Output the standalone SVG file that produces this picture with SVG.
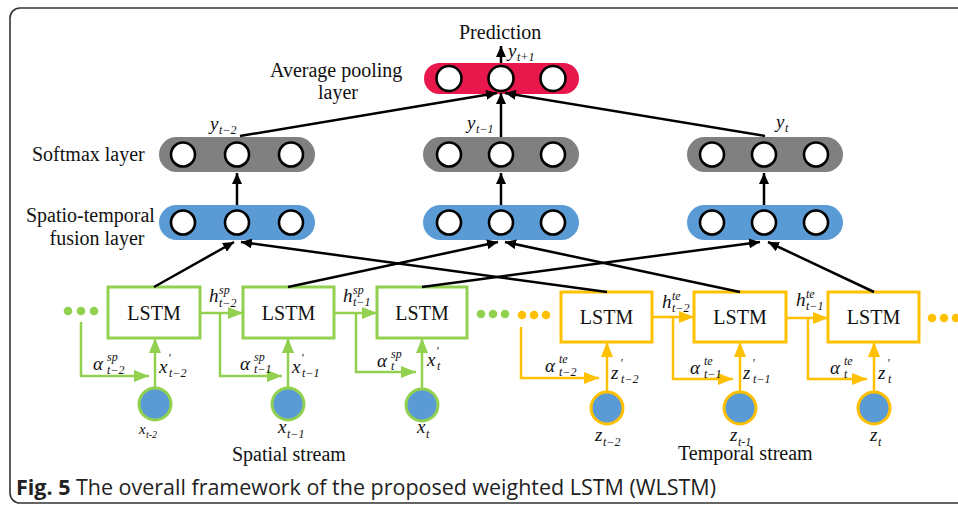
<svg xmlns="http://www.w3.org/2000/svg" width="958" height="506" viewBox="0 0 958 506">
<style>
.lbl{font-family:"Liberation Serif",serif;font-size:20px;fill:#111}
.m{font-family:"Liberation Serif",serif;font-style:italic;font-size:19px;fill:#111}
.s{font-family:"Liberation Serif",serif;font-style:italic;font-size:12px;fill:#111}
.ms{font-family:"Liberation Serif",serif;font-style:italic;font-size:15px;fill:#111}
.ss{font-family:"Liberation Serif",serif;font-style:italic;font-size:10px;fill:#111}
.node circle{fill:#fff;stroke:#000;stroke-width:2.6}
.blk{stroke:#000;stroke-width:2.5;fill:none}
.g{stroke:#92D050;stroke-width:2.5;fill:none}
.y{stroke:#FFC000;stroke-width:2.5;fill:none}
.gbox{fill:#fff;stroke:#92D050;stroke-width:3}
.ybox{fill:#fff;stroke:#FFC000;stroke-width:3}
.gin{fill:#5B9BD5;stroke:#92D050;stroke-width:3}
.yin{fill:#5B9BD5;stroke:#FFC000;stroke-width:3}
.cap{font-family:"Open Sans",sans-serif;font-size:21px;fill:#222}
</style>
<defs>
<marker id="ab" markerUnits="userSpaceOnUse" markerWidth="12" markerHeight="10" refX="11" refY="5" orient="auto"><path d="M0,0 L11,5 L0,10 z" fill="#000"/></marker>
<marker id="ag" markerUnits="userSpaceOnUse" markerWidth="16" markerHeight="12" refX="15" refY="6" orient="auto"><path d="M0,0 L15,6 L0,12 z" fill="#92D050"/></marker>
<marker id="ay" markerUnits="userSpaceOnUse" markerWidth="16" markerHeight="12" refX="15" refY="6" orient="auto"><path d="M0,0 L15,6 L0,12 z" fill="#FFC000"/></marker>
</defs>
<rect x="10" y="8" width="970" height="495" rx="10" fill="#fff" stroke="#333" stroke-width="1.6"/>

<g id="labels">
<text class="lbl" x="459" y="39">Prediction</text>
<text class="lbl" x="270" y="77">Average pooling</text>
<text class="lbl" x="338" y="99" text-anchor="middle">layer</text>
<text class="lbl" x="32" y="161">Softmax layer</text>
<text class="lbl" x="26" y="222">Spatio-temporal</text>
<text class="lbl" x="97" y="245" text-anchor="middle">fusion layer</text>
<text class="lbl" x="232" y="461">Spatial stream</text>
<text class="lbl" x="678" y="460">Temporal stream</text>
</g>

<g id="pooling" class="node">
<rect x="424" y="63" width="155" height="31" rx="15.5" fill="#E8184D"/>
<circle cx="449" cy="78.5" r="12.5"/><circle cx="501" cy="78.5" r="12.5"/><circle cx="553" cy="78.5" r="12.5"/>
</g>
<g id="softmax1" class="node">
<rect x="159" y="137" width="156" height="35" rx="17.5" fill="#808080"/>
<circle cx="183" cy="154.5" r="12"/><circle cx="237" cy="154.5" r="12"/><circle cx="291" cy="154.5" r="12"/>
</g>
<g id="softmax2" class="node">
<rect x="423" y="137" width="156" height="35" rx="17.5" fill="#808080"/>
<circle cx="449" cy="154.5" r="12"/><circle cx="501" cy="154.5" r="12"/><circle cx="553" cy="154.5" r="12"/>
</g>
<g id="softmax3" class="node">
<rect x="687" y="137" width="156" height="35" rx="17.5" fill="#808080"/>
<circle cx="712" cy="154.5" r="12"/><circle cx="764" cy="154.5" r="12"/><circle cx="816" cy="154.5" r="12"/>
</g>
<g id="fusion1" class="node">
<rect x="159" y="205" width="156" height="35" rx="17.5" fill="#5B9BD5"/>
<circle cx="183" cy="222.5" r="12"/><circle cx="237" cy="222.5" r="12"/><circle cx="291" cy="222.5" r="12"/>
</g>
<g id="fusion2" class="node">
<rect x="423" y="205" width="156" height="35" rx="17.5" fill="#5B9BD5"/>
<circle cx="449" cy="222.5" r="12"/><circle cx="501" cy="222.5" r="12"/><circle cx="553" cy="222.5" r="12"/>
</g>
<g id="fusion3" class="node">
<rect x="687" y="205" width="156" height="35" rx="17.5" fill="#5B9BD5"/>
<circle cx="712" cy="222.5" r="12"/><circle cx="764" cy="222.5" r="12"/><circle cx="816" cy="222.5" r="12"/>
</g>

<g id="lstm-sp1"><rect class="gbox" x="108" y="287" width="92" height="51"/><text class="lbl" x="154" y="320" text-anchor="middle">LSTM</text></g>
<g id="lstm-sp2"><rect class="gbox" x="243" y="287" width="91" height="51"/><text class="lbl" x="288.5" y="320" text-anchor="middle">LSTM</text></g>
<g id="lstm-sp3"><rect class="gbox" x="377" y="287" width="90" height="51"/><text class="lbl" x="422" y="320" text-anchor="middle">LSTM</text></g>
<g id="lstm-te1"><rect class="ybox" x="561" y="292" width="91" height="50"/><text class="lbl" x="606.5" y="324" text-anchor="middle">LSTM</text></g>
<g id="lstm-te2"><rect class="ybox" x="694" y="292" width="92" height="50"/><text class="lbl" x="740" y="324" text-anchor="middle">LSTM</text></g>
<g id="lstm-te3"><rect class="ybox" x="828" y="292" width="91" height="50"/><text class="lbl" x="873.5" y="324" text-anchor="middle">LSTM</text></g>

<g id="in-x1"><circle class="gin" cx="155" cy="404" r="16"/></g>
<g id="in-x2"><circle class="gin" cx="288" cy="404" r="16"/></g>
<g id="in-x3"><circle class="gin" cx="422" cy="405" r="16"/></g>
<g id="in-z1"><circle class="yin" cx="607" cy="408" r="16"/></g>
<g id="in-z2"><circle class="yin" cx="740" cy="408" r="16"/></g>
<g id="in-z3"><circle class="yin" cx="874" cy="408" r="16"/></g>

<g id="dots">
<circle cx="68" cy="311" r="4.3" fill="#92D050"/><circle cx="81" cy="311" r="4.3" fill="#92D050"/><circle cx="94" cy="311" r="4.3" fill="#92D050"/>
<circle cx="481" cy="314" r="4.3" fill="#92D050"/><circle cx="493" cy="314" r="4.3" fill="#92D050"/><circle cx="505" cy="314" r="4.3" fill="#92D050"/>
<circle cx="522" cy="315" r="4.3" fill="#FFC000"/><circle cx="534" cy="315" r="4.3" fill="#FFC000"/><circle cx="546" cy="315" r="4.3" fill="#FFC000"/>
<circle cx="932" cy="318" r="4.3" fill="#FFC000"/><circle cx="944" cy="318" r="4.3" fill="#FFC000"/><circle cx="956" cy="318" r="4.3" fill="#FFC000"/>
</g>

<g id="connectors">
<line class="blk" x1="501" y1="63" x2="501" y2="46" marker-end="url(#ab)"/>
<line class="blk" x1="240" y1="136" x2="497" y2="93" marker-end="url(#ab)"/>
<line class="blk" x1="501" y1="137" x2="501" y2="93" marker-end="url(#ab)"/>
<line class="blk" x1="765" y1="136" x2="505" y2="93" marker-end="url(#ab)"/>
<line class="blk" x1="237" y1="205" x2="237" y2="173" marker-end="url(#ab)"/>
<line class="blk" x1="501" y1="205" x2="501" y2="173" marker-end="url(#ab)"/>
<line class="blk" x1="764" y1="205" x2="764" y2="173" marker-end="url(#ab)"/>
<line class="blk" x1="154" y1="287" x2="234" y2="242" marker-end="url(#ab)"/>
<line class="blk" x1="607" y1="292" x2="241" y2="242" marker-end="url(#ab)"/>
<line class="blk" x1="288" y1="287" x2="498" y2="242" marker-end="url(#ab)"/>
<line class="blk" x1="740" y1="292" x2="505" y2="242" marker-end="url(#ab)"/>
<line class="blk" x1="422" y1="287" x2="760" y2="242" marker-end="url(#ab)"/>
<line class="blk" x1="874" y1="292" x2="768" y2="242" marker-end="url(#ab)"/>

<line class="g" x1="200" y1="313" x2="243" y2="313" marker-end="url(#ag)"/>
<line class="g" x1="334" y1="313" x2="377" y2="313" marker-end="url(#ag)"/>
<line class="y" x1="652" y1="317" x2="694" y2="317" marker-end="url(#ay)"/>
<line class="y" x1="786" y1="318" x2="828" y2="318" marker-end="url(#ay)"/>

<path class="g" d="M81,322 V376 H149" marker-end="url(#ag)"/>
<path class="g" d="M220,313 V376 H282" marker-end="url(#ag)"/>
<path class="g" d="M356,313 V372 H416" marker-end="url(#ag)"/>
<path class="y" d="M521,327 V378 H599" marker-end="url(#ay)"/>
<path class="y" d="M673,317 V379 H733" marker-end="url(#ay)"/>
<path class="y" d="M808,318 V379 H867" marker-end="url(#ay)"/>

<line class="g" x1="155" y1="387" x2="155" y2="338" marker-end="url(#ag)"/>
<line class="g" x1="288" y1="387" x2="288" y2="338" marker-end="url(#ag)"/>
<line class="g" x1="422" y1="388" x2="422" y2="338" marker-end="url(#ag)"/>
<line class="y" x1="607" y1="391" x2="607" y2="342" marker-end="url(#ay)"/>
<line class="y" x1="740" y1="391" x2="740" y2="342" marker-end="url(#ay)"/>
<line class="y" x1="874" y1="391" x2="874" y2="342" marker-end="url(#ay)"/>
</g>

<g id="math">
<text class="m" x="508" y="57">y</text><text class="s" x="517" y="61">t+1</text>
<text class="m" x="210" y="130">y</text><text class="s" x="219" y="134">t−2</text>
<text class="m" x="467" y="129">y</text><text class="s" x="476" y="133">t−1</text>
<text class="m" x="776" y="128">y</text><text class="s" x="785" y="132">t</text>

<text class="m" x="209" y="302">h</text><text class="s" x="219" y="294">sp</text><text class="s" x="219" y="307">t−2</text>
<text class="m" x="343" y="302">h</text><text class="s" x="353" y="294">sp</text><text class="s" x="353" y="306">t−1</text>
<text class="m" x="662" y="308">h</text><text class="s" x="672" y="300">te</text><text class="s" x="672" y="312">t−2</text>
<text class="m" x="796" y="306">h</text><text class="s" x="806" y="298">te</text><text class="s" x="806" y="310">t−1</text>

<text class="m" x="93" y="370">α</text><text class="s" x="107" y="361">sp</text><text class="s" x="107" y="374">t−2</text>
<text class="m" x="240" y="370">α</text><text class="s" x="254" y="361">sp</text><text class="s" x="254" y="373">t−1</text>
<text class="m" x="377" y="367">α</text><text class="s" x="391" y="358">sp</text><text class="s" x="391" y="370">t</text>
<text class="m" x="545" y="372">α</text><text class="s" x="559" y="363">te</text><text class="s" x="559" y="376">t−2</text>
<text class="m" x="690" y="374">α</text><text class="s" x="704" y="365">te</text><text class="s" x="704" y="378">t−1</text>
<text class="m" x="830" y="374">α</text><text class="s" x="844" y="365">te</text><text class="s" x="844" y="378">t</text>

<text class="m" x="159" y="373">x</text><text class="s" x="168" y="362">'</text><text class="s" x="169" y="377">t−2</text>
<text class="m" x="292" y="373">x</text><text class="s" x="301" y="362">'</text><text class="s" x="302" y="377">t−1</text>
<text class="m" x="427" y="366">x</text><text class="s" x="436" y="355">'</text><text class="s" x="437" y="370">t</text>
<text class="m" x="611" y="379">z</text><text class="s" x="620" y="367">'</text><text class="s" x="621" y="383">t−2</text>
<text class="m" x="743" y="379">z</text><text class="s" x="752" y="367">'</text><text class="s" x="753" y="383">t−1</text>
<text class="m" x="878" y="379">z</text><text class="s" x="887" y="367">'</text><text class="s" x="888" y="383">t</text>

<text class="ms" x="139" y="434">x</text><text class="ss" x="146" y="438">t-2</text>
<text class="m" x="278" y="433">x</text><text class="s" x="287" y="438">t−1</text>
<text class="m" x="417" y="433">x</text><text class="s" x="426" y="438">t</text>
<text class="m" x="595" y="441">z</text><text class="s" x="603" y="446">t−2</text>
<text class="m" x="730" y="441">z</text><text class="s" x="738" y="446">t-1</text>
<text class="m" x="870" y="441">z</text><text class="s" x="878" y="446">t</text>
</g>

<text class="cap" x="16" y="495" textLength="700" lengthAdjust="spacingAndGlyphs"><tspan font-weight="bold">Fig. 5</tspan> The overall framework of the proposed weighted LSTM (WLSTM)</text>
</svg>
